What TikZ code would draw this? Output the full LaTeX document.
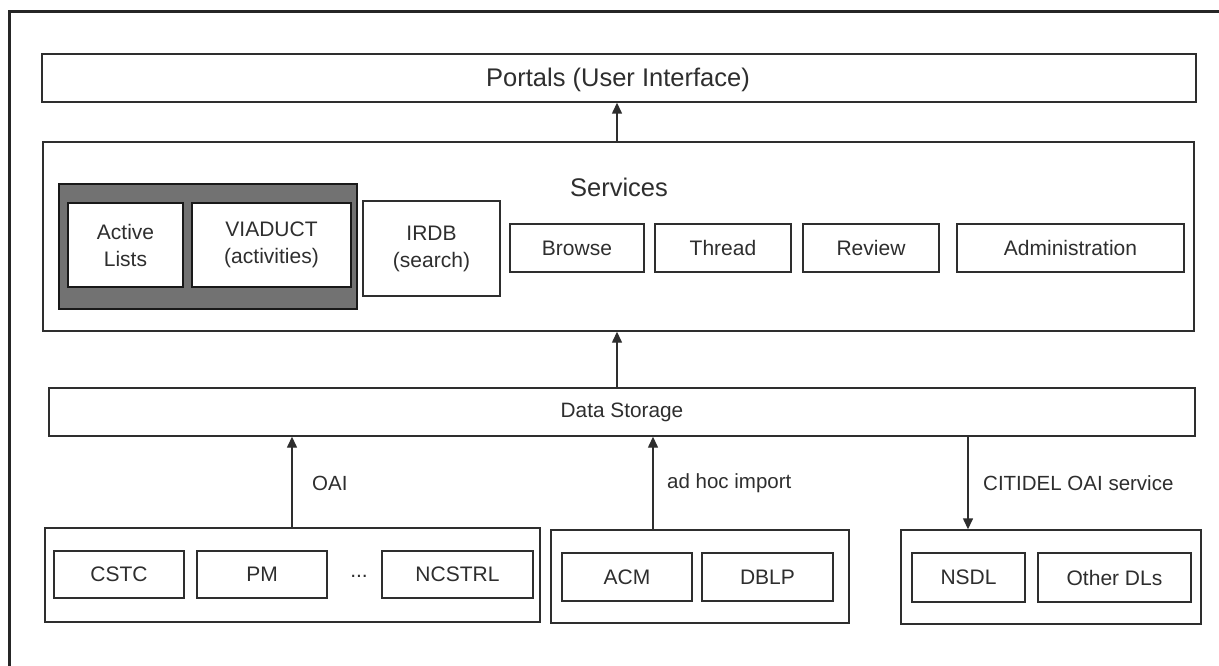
\documentclass[tikz,border=0pt]{standalone}
\usepackage{fontspec}
\setmainfont{Liberation Sans}
\usetikzlibrary{arrows.meta}
\definecolor{ink}{HTML}{2E2E2E}
\definecolor{darkfill}{HTML}{727272}
\tikzset{
  box/.style={draw=ink, line width=1.4pt, fill=white, inner sep=0pt, align=center,
    font=\fontsize{21}{27}\selectfont, text=ink},
  innerbox/.style={box, line width=2pt, draw=black!90},
  darkbox/.style={draw=black!90, line width=2.2pt, fill=darkfill, inner sep=0pt},
  biglabel/.style={font=\fontsize{25.5}{30}\selectfont, text=ink, inner sep=0pt},
  arrlabel/.style={font=\fontsize{20.5}{25}\selectfont, text=ink, inner sep=0pt, anchor=west},
  arr/.style={draw=ink, line width=1.4pt, -{Triangle[width=10pt,length=11pt]}},
  frame/.style={draw=black!85, line width=3pt},
}
\begin{document}
\begin{tikzpicture}[x=1pt,y=-1pt]
\useasboundingbox (0,0) rectangle (1219,666);
\fill[white] (0,0) rectangle (1219,666);
% outer frame
\draw[frame] (9,666) -- (9,12) -- (1219,12);
% portals
\node[box, minimum width=1154pt, minimum height=48pt] (portals) at (619,78) {};
\node[biglabel] (portalsLabel) at (618,80) {Portals (User Interface)};
% services
\node[box, minimum width=1151pt, minimum height=189pt] (services) at (618.5,236.5) {};
\node[biglabel] (servicesLabel) at (619,187) {Services};
\node[darkbox, minimum width=298pt, minimum height=125pt] (dark) at (208,246.5) {};
\node[innerbox, minimum width=115pt, minimum height=84pt] (active) at (125.5,245) {Active\\Lists};
\node[innerbox, minimum width=159pt, minimum height=84pt] (viaduct) at (271.5,245) {VIADUCT\\(activities)};
\node[box, minimum width=137pt, minimum height=95pt] (irdb) at (431.5,248.5) {IRDB\\(search)};
\node[box, minimum width=134pt, minimum height=48pt] (browse) at (577,248) {Browse};
\node[box, minimum width=136pt, minimum height=48pt] (thread) at (723,248) {Thread};
\node[box, minimum width=136pt, minimum height=48pt] (review) at (871,248) {Review};
\node[box, minimum width=227pt, minimum height=48pt] (admin) at (1070.5,248) {Administration};
% data storage
\node[box, minimum width=1146pt, minimum height=48pt, font=\fontsize{20.8}{25}\selectfont] (storage) at (622,412) {Data Storage};
% sources
\node[box, minimum width=495pt, minimum height=94pt] (group1) at (292.5,575) {};
\node[box, minimum width=130pt, minimum height=47pt] (cstc) at (119,574.5) {CSTC};
\node[box, minimum width=130pt, minimum height=47pt] (pm) at (262,574.5) {PM};
\node[font=\fontsize{21}{25}\selectfont, text=ink, inner sep=0pt] (dots) at (359,576) {...};
\node[box, minimum width=151pt, minimum height=47pt] (ncstrl) at (457.5,574.5) {NCSTRL};
\node[box, minimum width=298pt, minimum height=93pt] (group2) at (700,576.5) {};
\node[box, minimum width=130pt, minimum height=48pt] (acm) at (627,577) {ACM};
\node[box, minimum width=131pt, minimum height=48pt] (dblp) at (767.5,577) {DBLP};
\node[box, minimum width=300pt, minimum height=94pt] (group3) at (1051,577) {};
\node[box, minimum width=113pt, minimum height=49pt] (nsdl) at (968.5,577.5) {NSDL};
\node[box, minimum width=153pt, minimum height=49pt] (other) at (1114.5,577.5) {Other DLs};
% arrow positions
\coordinate (ax1) at (617,0);
\coordinate (ax2) at (292,0);
\coordinate (ax3) at (653,0);
\coordinate (ax4) at (968,0);
\draw[arr] (services.north -| ax1) -- (portals.south -| ax1);
\draw[arr] (storage.north -| ax1) -- (services.south -| ax1);
\draw[arr] (group1.north -| ax2) -- (storage.south -| ax2);
\draw[arr] (group2.north -| ax3) -- (storage.south -| ax3);
\draw[arr] (storage.south -| ax4) -- (group3.north -| ax4);
\node[arrlabel] (oai) at (312,483) {OAI};
\node[arrlabel] (adhoc) at (667,483) {ad hoc import};
\node[arrlabel] (citidel) at (983,483) {CITIDEL OAI service};
\end{tikzpicture}
\end{document}
